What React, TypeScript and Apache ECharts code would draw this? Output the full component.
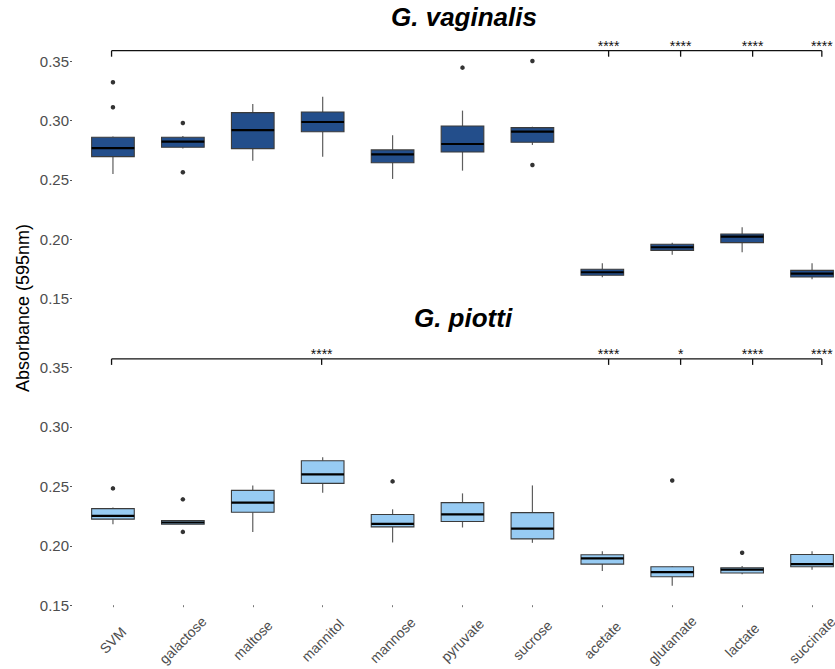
import React, { useEffect, useRef } from "react";
import * as echarts from "echarts";

// Carbon sources tested on each species
const categories = [
  "SVM", "galactose", "maltose", "mannitol", "mannose", "pyruvate",
  "sucrose", "acetate", "glutamate", "lactate", "succinate",
];

// Box statistics per carbon source: [min, q1, median, q3, max]
const vaginalisBoxes = [
  [0.255, 0.2696, 0.2769, 0.286, 0.2866],
  [0.2766, 0.2775, 0.2823, 0.286, 0.2871],
  [0.2662, 0.2764, 0.2921, 0.3068, 0.3141],
  [0.2696, 0.2907, 0.2989, 0.3073, 0.3203],
  [0.2508, 0.2645, 0.2716, 0.2753, 0.2877],
  [0.2578, 0.2736, 0.2803, 0.2955, 0.3085],
  [0.2795, 0.2818, 0.2907, 0.2941, 0.2949],
  [0.1677, 0.1694, 0.172, 0.1745, 0.1796],
  [0.1868, 0.1905, 0.1931, 0.1956, 0.197],
  [0.1889, 0.197, 0.202, 0.2043, 0.21],
  [0.166, 0.168, 0.1708, 0.1736, 0.1796],
];
const vaginalisOutliers = [
  [0, 0.3324], [0, 0.3113], [1, 0.298], [1, 0.2564],
  [5, 0.3448], [6, 0.3504], [6, 0.2626],
];
// Comparison bracket: reference group first, then tested groups, as
// [category position, significance label]
const vaginalisSigPos = [-0.02, 7.09, 8.12, 9.15, 10.14];
const vaginalisSigText = ["", "****", "****", "****", "****"];

const piottiBoxes = [
  [0.2181, 0.2224, 0.2251, 0.2313, 0.2322],
  [0.2181, 0.2181, 0.2196, 0.2212, 0.2217],
  [0.2117, 0.2282, 0.2363, 0.2466, 0.2508],
  [0.2447, 0.2525, 0.2601, 0.2716, 0.2746],
  [0.2028, 0.2159, 0.2184, 0.2263, 0.2307],
  [0.2154, 0.2204, 0.2265, 0.2363, 0.2441],
  [0.2025, 0.2058, 0.2145, 0.2279, 0.2508],
  [0.1788, 0.1846, 0.1894, 0.1924, 0.1955],
  [0.1664, 0.174, 0.1779, 0.1824, 0.183],
  [0.176, 0.1771, 0.1799, 0.1815, 0.183],
  [0.1799, 0.1824, 0.1846, 0.1927, 0.1953],
];
const piottiOutliers = [
  [0, 0.2483], [1, 0.2391], [1, 0.2117], [4, 0.2542],
  [8, 0.255], [9, 0.1941],
];
const piottiSigPos = [-0.02, 2.985, 7.09, 8.12, 9.15, 10.14];
const piottiSigText = ["", "****", "****", "*", "****", "****"];

const yTicks = [0.15, 0.2, 0.25, 0.3, 0.35];

const FONT = "'Liberation Sans', Arial, Helvetica, sans-serif";

function boxRenderer(fill: string) {
  return (params: any, api: any) => {
    const i = api.value(0);
    const [x, yMin] = api.coord([i, api.value(1)]);
    const yQ1 = api.coord([i, api.value(2)])[1];
    const yMed = api.coord([i, api.value(3)])[1];
    const yQ3 = api.coord([i, api.value(4)])[1];
    const yMax = api.coord([i, api.value(5)])[1];
    const w = api.size([1, 0])[0] * 0.61;
    return {
      type: "group",
      children: [
        { type: "line", shape: { x1: x, y1: yMax, x2: x, y2: yQ3 }, style: { stroke: "#5e5e5e", lineWidth: 1.2 } },
        { type: "line", shape: { x1: x, y1: yQ1, x2: x, y2: yMin }, style: { stroke: "#5e5e5e", lineWidth: 1.2 } },
        {
          type: "rect",
          shape: { x: x - w / 2, y: yQ3, width: w, height: yQ1 - yQ3 },
          style: { fill, stroke: "#3b3b3b", lineWidth: 1.1 },
        },
        {
          type: "line",
          shape: { x1: x - w / 2, y1: yMed, x2: x + w / 2, y2: yMed },
          style: { stroke: "#000", lineWidth: 2.2 },
        },
      ],
    };
  };
}

// Position along a category axis, allowing fractional category offsets
function catX(api: any, pos: number, y: number) {
  const base = Math.floor(pos + 0.5);
  const band = api.size([1, 0])[0];
  return api.coord([base, y])[0] + (pos - base) * band;
}

function bracketRenderer(positions: number[], labels: string[], level: number, tickDrop: number) {
  return (params: any, api: any) => {
    const idx = params.dataIndex;
    const y = api.coord([0, level])[1];
    const x = catX(api, positions[idx], level);
    const children: any[] = [
      { type: "line", shape: { x1: x, y1: y, x2: x, y2: y + tickDrop }, style: { stroke: "#111", lineWidth: 1.3 } },
    ];
    if (idx === 0) {
      const xEnd = catX(api, positions[positions.length - 1], level);
      children.push({ type: "line", shape: { x1: x, y1: y, x2: xEnd, y2: y }, style: { stroke: "#111", lineWidth: 1.3 } });
    }
    if (labels[idx]) {
      children.push({
        type: "text",
        style: {
          text: labels[idx], x, y: y - 4.5, align: "center", verticalAlign: "middle",
          fontSize: 14, fontFamily: FONT, fill: "#111",
        },
      });
    }
    return { type: "group", children };
  };
}

function yAxisFor(gridIndex: number, min: number, max: number) {
  return {
    type: "value",
    gridIndex,
    min,
    max,
    offset: 6,
    axisLine: { show: false },
    splitLine: { show: false },
    axisTick: { show: true, length: 2, customValues: yTicks, lineStyle: { color: "#555", width: 1 } },
    axisLabel: {
      customValues: yTicks,
      formatter: (v: number) => v.toFixed(2),
      fontSize: 15,
      fontFamily: FONT,
      color: "#4d4d4d",
      margin: 3,
    },
  };
}

export default function App() {
  const ref = useRef<HTMLDivElement>(null);

  useEffect(() => {
    if (!ref.current) return;
    const chart = echarts.init(ref.current, null, { renderer: "svg" });
    const toRows = (boxes: number[][]) => boxes.map((b, i) => [i, ...b]);
    const sigRows = (positions: number[]) => positions.map((p) => [Math.max(0, Math.round(p)), 0.35]);

    chart.setOption({
      animation: false,
      backgroundColor: "#ffffff",
      grid: [
        { left: 78, width: 769, top: 37.8, height: 266.4 },
        { left: 78, width: 769, top: 343.8, height: 262.5 },
      ],
      xAxis: [
        {
          type: "category", gridIndex: 0, data: categories,
          axisLine: { show: false }, axisTick: { show: false }, axisLabel: { show: false },
        },
        {
          type: "category", gridIndex: 1, data: categories,
          axisLine: { show: false },
          axisTick: { show: true, alignWithLabel: true, length: 2, lineStyle: { color: "#777" } },
          axisLabel: {
            interval: 0, rotate: 45, align: "center", verticalAlign: "middle",
            fontSize: 14, fontFamily: FONT, color: "#4d4d4d", margin: 35,
          },
        },
      ],
      yAxis: [yAxisFor(0, 0.145, 0.37), yAxisFor(1, 0.15, 0.37)],
      graphic: [
        {
          type: "text", x: 464, y: 17,
          style: {
            text: "G. vaginalis", align: "center", verticalAlign: "middle",
            fontSize: 26, fontWeight: "bold", fontStyle: "italic", fontFamily: FONT, fill: "#000",
          },
        },
        {
          type: "text", x: 463, y: 317.5,
          style: {
            text: "G. piotti", align: "center", verticalAlign: "middle",
            fontSize: 26, fontWeight: "bold", fontStyle: "italic", fontFamily: FONT, fill: "#000",
          },
        },
        {
          type: "text", x: 23, y: 308, rotation: Math.PI / 2,
          style: {
            text: "Absorbance (595nm)", align: "center", verticalAlign: "middle",
            fontSize: 18, fontFamily: FONT, fill: "#000",
          },
        },
      ],
      series: [
        {
          type: "custom", xAxisIndex: 0, yAxisIndex: 0,
          data: toRows(vaginalisBoxes), encode: { x: 0, y: [1, 2, 3, 4, 5] },
          renderItem: boxRenderer("#234e8b"),
        },
        {
          type: "scatter", xAxisIndex: 0, yAxisIndex: 0,
          data: vaginalisOutliers, symbolSize: 4.5, itemStyle: { color: "#000" },
        },
        {
          type: "custom", xAxisIndex: 0, yAxisIndex: 0,
          data: sigRows(vaginalisSigPos), encode: { x: 0, y: 1 },
          renderItem: bracketRenderer(vaginalisSigPos, vaginalisSigText, 0.3591, 6),
        },
        {
          type: "custom", xAxisIndex: 1, yAxisIndex: 1,
          data: toRows(piottiBoxes), encode: { x: 0, y: [1, 2, 3, 4, 5] },
          renderItem: boxRenderer("#97cbf3"),
        },
        {
          type: "scatter", xAxisIndex: 1, yAxisIndex: 1,
          data: piottiOutliers, symbolSize: 4.5, itemStyle: { color: "#000" },
        },
        {
          type: "custom", xAxisIndex: 1, yAxisIndex: 1,
          data: sigRows(piottiSigPos), encode: { x: 0, y: 1 },
          renderItem: bracketRenderer(piottiSigPos, piottiSigText, 0.3573, 6),
        },
      ],
    });

    return () => chart.dispose();
  }, []);

  return (
    <div style={{ position: "fixed", left: 0, top: 0, width: 835, height: 669, overflow: "hidden", background: "#fff" }}>
      <div ref={ref} style={{ width: 860, height: 669 }} />
    </div>
  );
}
